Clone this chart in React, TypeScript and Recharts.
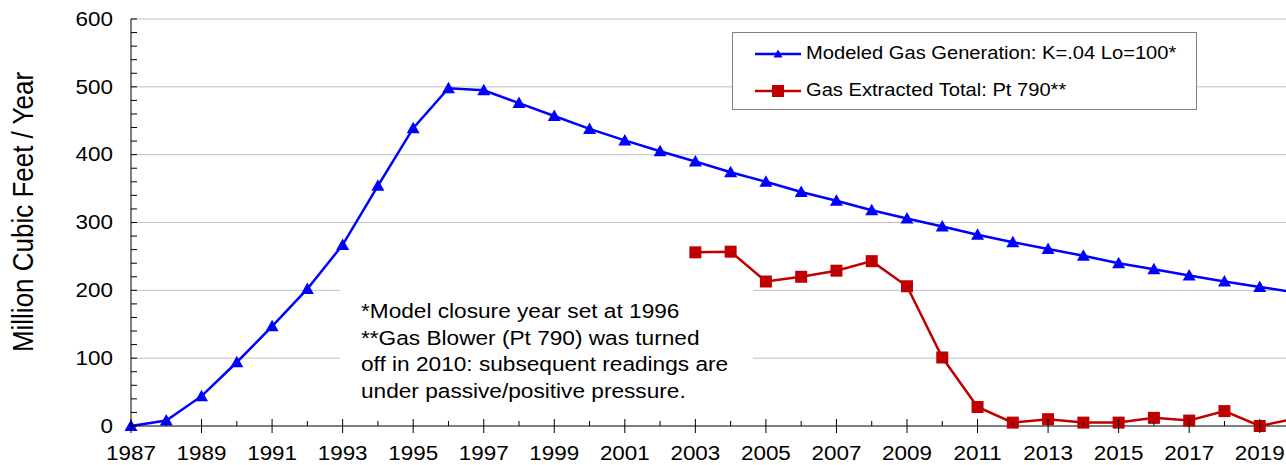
import { LineChart, Line, XAxis, YAxis, CartesianGrid, Legend, Label } from 'recharts'

const years = [
  1987, 1988, 1989, 1990, 1991, 1992, 1993, 1994, 1995, 1996, 1997, 1998, 1999, 2000, 2001, 2002, 2003,
  2004, 2005, 2006, 2007, 2008, 2009, 2010, 2011, 2012, 2013, 2014, 2015, 2016, 2017, 2018, 2019, 2020,
]
const modeledGas = [
  0, 8, 44, 94, 147, 202, 267, 354, 439, 498, 495, 476, 457, 438, 421, 405, 390,
  374, 360, 345, 332, 318, 306, 294, 282, 271, 261, 251, 240, 231, 222, 213, 205, 197,
]
const extractedGas = [
  null, null, null, null, null, null, null, null, null, null, null, null, null, null, null, null, 256,
  257, 213, 220, 229, 243, 206, 101, 28, 5, 10, 5, 5, 12, 8, 22, 0, 11,
]
const xTicks = years.slice(0, -1)
const yTicks = [
  0, 20, 40, 60, 80, 100, 120, 140, 160, 180, 200, 220, 240, 260, 280, 300,
  320, 340, 360, 380, 400, 420, 440, 460, 480, 500, 520, 540, 560, 580, 600,
]
const gridValues = [100, 200, 300, 400, 500, 600]
const noteLines = [
  '*Model closure year set at 1996',
  '**Gas Blower (Pt 790) was turned',
  'off in 2010: subsequent readings are',
  'under passive/positive pressure.',
]

const BLUE = '#0000FF'
const RED = '#C00000'
const FONT = '"Liberation Sans", Arial, sans-serif'
const STRETCH = 1.15 // the source picture is a bit wider than tall

const data = years.map((year, i) => ({ year, modeled: modeledGas[i], extracted: extractedGas[i] }))

// eslint-disable-next-line @typescript-eslint/no-explicit-any
const Triangle = ({ cx, cy, index }: any) => {
  if (cx == null || cy == null) return null
  return <polygon key={`t-${index}`} points={`${cx},${cy - 6.5} ${cx - 6.5},${cy + 5} ${cx + 6.5},${cy + 5}`} fill={BLUE} />
}

// eslint-disable-next-line @typescript-eslint/no-explicit-any
const Square = ({ cx, cy, index }: any) => {
  if (cx == null || cy == null) return null
  return <rect key={`s-${index}`} x={cx - 6} y={cy - 6} width={12} height={12} fill={RED} />
}

// eslint-disable-next-line @typescript-eslint/no-explicit-any
const YTick = ({ x, y, payload }: any) => {
  const v = payload.value
  return (
    <g>
      <line x1={x} x2={x + 6} y1={y} y2={y} stroke="#000" />
      {v % 100 === 0 && (
        <text
          transform={`translate(${x - 18},${y + 6.8}) scale(${STRETCH},1)`}
          textAnchor="end"
          fontSize={19.5}
          fontFamily={FONT}
          fill="#000"
        >
          {v}
        </text>
      )}
    </g>
  )
}

// eslint-disable-next-line @typescript-eslint/no-explicit-any
const XTick = ({ x, y, payload }: any) => {
  const v = payload.value
  const major = v % 2 === 1
  return (
    <g>
      <line x1={x} x2={x} y1={major ? y - 7 : y - 5} y2={major ? y + 7 : y} stroke="#000" />
      {major && (
        <text
          transform={`translate(${x},${y + 34}) scale(${STRETCH},1)`}
          textAnchor="middle"
          fontSize={19.5}
          fontFamily={FONT}
          fill="#000"
        >
          {v}
        </text>
      )}
    </g>
  )
}

const LegendRow = ({ color, marker, text }: { color: string; marker: 'tri' | 'sq'; text: string }) => (
  <div style={{ display: 'flex', alignItems: 'center', height: 37 }}>
    <svg width={48} height={16} style={{ marginRight: 4, flex: 'none' }}>
      <line x1={1} x2={47} y1={8} y2={8} stroke={color} strokeWidth={2.5} />
      {marker === 'tri' ? (
        <polygon points="24,3.5 19.5,11.5 28.5,11.5" fill={color} />
      ) : (
        <rect x={18} y={2} width={12} height={12} fill={color} />
      )}
    </svg>
    <span style={{ display: 'inline-block', whiteSpace: 'nowrap', transform: `scaleX(${STRETCH})`, transformOrigin: 'left center' }}>
      {text}
    </span>
  </div>
)

const renderLegend = () => (
  <div
    style={{
      width: 465,
      height: 78,
      border: '1px solid #808080',
      background: '#fff',
      fontFamily: FONT,
      fontSize: 17.5,
      color: '#000',
      padding: '2px 0 0 21px',
      boxSizing: 'border-box',
    }}
  >
    <LegendRow color={BLUE} marker="tri" text="Modeled Gas Generation: K=.04 Lo=100*" />
    <LegendRow color={RED} marker="sq" text="Gas Extracted Total: Pt 790**" />
  </div>
)

export default function App() {
  return (
    <div style={{ position: 'absolute', left: 0, top: 0, width: 1286, height: 465, overflow: 'hidden', background: '#fff' }}>
      <LineChart width={1295} height={465} data={data} margin={{ top: 19, right: 0, bottom: 0, left: 0 }}>
        <CartesianGrid vertical={false} horizontalValues={gridValues} stroke="#c0c0c0" />
        <XAxis
          dataKey="year"
          type="number"
          domain={[1987, 2020]}
          ticks={xTicks}
          interval={0}
          height={39}
          tickSize={0}
          tickMargin={0}
          tickLine={false}
          axisLine={{ stroke: '#000' }}
          tick={<XTick />}
        />
        <YAxis
          type="number"
          domain={[0, 600]}
          ticks={yTicks}
          interval={0}
          width={131}
          tickSize={0}
          tickMargin={0}
          tickLine={false}
          axisLine={{ stroke: '#000' }}
          tick={<YTick />}
        >
          <Label
            content={() => (
              <text
                transform={`translate(23,212) scale(${STRETCH},1) rotate(-90)`}
                textAnchor="middle"
                dominantBaseline="central"
                fontSize={26}
                fontFamily={FONT}
                fill="#000"
              >
                Million Cubic Feet / Year
              </text>
            )}
          />
        </YAxis>
        <Legend
          layout="horizontal"
          align="center"
          verticalAlign="middle"
          content={renderLegend}
          wrapperStyle={{ position: 'absolute', left: 732, top: 32, width: 465, height: 78 }}
        />
        <Line
          dataKey="modeled"
          stroke={BLUE}
          strokeWidth={2.5}
          dot={Triangle}
          activeDot={false}
          isAnimationActive={false}
        />
        <Line
          dataKey="extracted"
          stroke={RED}
          strokeWidth={2.5}
          dot={Square}
          activeDot={false}
          connectNulls={false}
          isAnimationActive={false}
        />
      </LineChart>
      <div
        style={{
          position: 'absolute',
          left: 340,
          top: 280,
          width: 413,
          height: 125,
          background: '#fff',
          padding: '18px 0 0 21px',
          boxSizing: 'border-box',
        }}
      >
        <div
          style={{
            fontFamily: FONT,
            fontSize: 19.7,
            lineHeight: '26.7px',
            color: '#000',
            whiteSpace: 'nowrap',
            transform: `scaleX(${STRETCH})`,
            transformOrigin: 'left top',
          }}
        >
          {noteLines.map((line) => (
            <div key={line}>{line}</div>
          ))}
        </div>
      </div>
    </div>
  )
}
